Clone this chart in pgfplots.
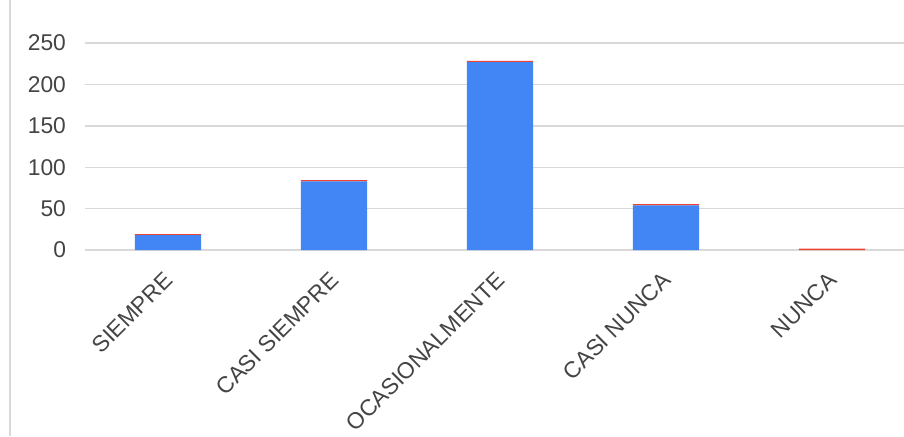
\documentclass[border=0pt]{standalone}
\usepackage{pgfplots}
\pgfplotsset{compat=1.18}
\usepackage{fontspec}
\setmainfont{Liberation Sans}
\definecolor{gblue}{HTML}{4285F4}
\definecolor{gred}{HTML}{EA4335}
\definecolor{gridc}{HTML}{D9D9D9}
\definecolor{labc}{HTML}{444444}
\begin{document}
\begin{tikzpicture}
\begin{axis}[
  at={(0pt,0pt)}, anchor=south west,
  scale only axis,
  width=409.5pt, height=103.5pt,
  xmin=-0.5, xmax=4.434,
  ymin=0, ymax=250,
  ybar stacked,
  bar width=0.4,
  axis line style={draw=none},
  ymajorgrids,
  grid style={gridc, line width=0.7pt},
  ytick={0,50,100,150,200,250},
  xtick={0,1,2,3,4},
  xticklabels={SIEMPRE,CASI SIEMPRE,OCASIONALMENTE,CASI NUNCA,NUNCA},
  major tick length=0pt,
  /pgf/number format/assume math mode=true,
  ticklabel style={font=\fontsize{11.4}{13}\selectfont, text=labc},
  yticklabel style={xshift=-6pt},
  xticklabel style={rotate=45, anchor=east, xshift=-5.6pt, yshift=-9.5pt},
  clip=false,
]
\addplot[fill=gblue, draw=none] coordinates {(0,18) (1,83) (2,227) (3,54) (4,0)};
\addplot[fill=gred, draw=none] coordinates {(0,1.3) (1,1.3) (2,1.3) (3,1.3) (4,1.6)};
\end{axis}
\draw[gridc, line width=1pt] (-37.5pt,-93pt) -- (-37.5pt,125pt);
\pgfresetboundingbox
\path[use as bounding box] (-42.5pt,-93pt) rectangle (409.5pt,125pt);
\end{tikzpicture}
\end{document}
